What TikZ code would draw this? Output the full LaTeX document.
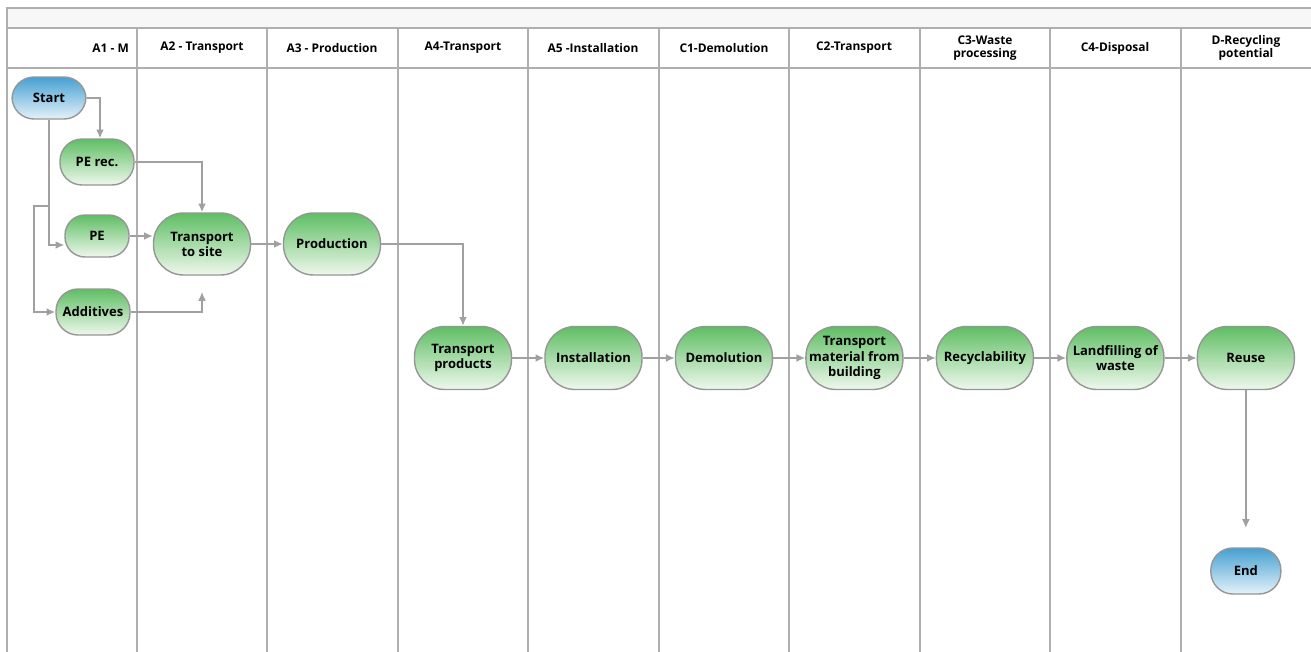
\documentclass[tikz,border=0pt]{standalone}
\usepackage{fontspec}
\setmainfont{Open Sans}
\usepackage{tikz}
\usetikzlibrary{arrows.meta,positioning}
\definecolor{laneline}{RGB}{175,175,175}
\definecolor{linkgrey}{RGB}{160,160,160}
\definecolor{boxline}{RGB}{150,150,150}
\definecolor{greentop}{RGB}{95,190,100}
\definecolor{greenbot}{RGB}{238,248,236}
\definecolor{bluetop}{RGB}{70,160,210}
\definecolor{bluebot}{RGB}{228,242,250}
\tikzset{
  lane/.style={draw=laneline,line width=0.9pt},
  lanehead/.style={font=\fontsize{6.8}{7.8}\selectfont\bfseries,align=center},
  proc/.style={draw=boxline,line width=0.8pt,top color=greentop,bottom color=greenbot,
    font=\fontsize{7.4}{8.6}\selectfont\bfseries,align=center,inner sep=1pt},
  term/.style={proc,top color=bluetop,bottom color=bluebot},
  small/.style={minimum width=1.48cm,minimum height=0.92cm,rounded corners=0.44cm},
  big/.style={minimum width=1.94cm,minimum height=1.26cm,rounded corners=0.6cm},
  chainright/.style={right=2.61cm of #1.center,anchor=center},
  link/.style={draw=linkgrey,line width=0.9pt,-{Latex[length=5pt,width=4.5pt]}}
}
\begin{document}
\begin{tikzpicture}[x=0.02cm,y=-0.02cm]
    \useasboundingbox (0,0) rectangle (1311,652);
    \fill[white] (0,0) rectangle (1311,652);
    \fill[black!3] (7,8) rectangle (1311,28);
    \draw[lane] (7,652) |- (1311,8);
    \draw[lane] (7,28) -- (1311,28);
    \draw[lane] (7,68) -- (1311,68);
    \foreach \x in {137,267,398,528,659,789,920,1050,1181}
        \draw[lane] (\x,28) -- (\x,652);
    \node[lanehead,anchor=east] (h1) at (135,48) {A1 - M};
    \foreach \x/\t [count=\i from 2] in {202/A2 - Transport,332/A3 - Production,
        463/A4-Transport,593/A5 -Installation,724/C1-Demolution,854/C2-Transport,
        985/C3-Waste\\processing,1115/C4-Disposal,1246/D-Recycling\\potential}
        \node[lanehead] (h\i) at (\x,48) {\t};

    \node[term,small,minimum height=0.84cm] (start) at (49,98) {Start};
    \node[proc,small] (perec) at (97,162) {PE rec.};
    \node[proc,small,minimum width=1.28cm,minimum height=0.84cm,rounded corners=0.4cm] (pe) at (97,236) {PE};
    \node[proc,small] (add) at (93,312) {Additives};
    \node[proc,big,minimum height=1.24cm] (site) at (202,244) {Transport\\to site};
    \node[proc,big,minimum height=1.24cm] (prod) at (332,244) {Production};
    \node[proc,big] (tprod) at (463,358) {Transport\\products};
    \node[proc,big,chainright=tprod] (inst) {Installation};
    \node[proc,big,chainright=inst] (demol) {Demolution};
    \node[proc,big,chainright=demol] (tmat) {Transport\\material from\\building};
    \node[proc,big,chainright=tmat] (recyc) {Recyclability};
    \node[proc,big,chainright=recyc] (landf) {Landfilling of\\waste};
    \node[proc,big,chainright=landf] (reuse) {Reuse};
    \node[term,small,minimum width=1.4cm] (end) at (reuse |- 0,571) {End};

    \coordinate (fork) at (49,206);
    \coordinate (sitein) at (202,292);
    \coordinate (endin) at (reuse |- 0,528);

    \draw[link] (start.east) -| ([xshift=0.06cm]perec.north);
    \draw[link] (start.south) |- ([yshift=-0.18cm]pe.west);
    \draw[link] (fork) -- ++(-15,0) |- (add.west);
    \draw[link] (perec.east) -| (site.north);
    \draw[link] (pe.east) -- (pe.east -| site.west);
    \draw[link] (add.east) -| (sitein);
    \draw[link] (site.east) -- (prod.west);
    \draw[link] (prod.east) -| (tprod.north);
    \draw[link] (tprod) -- (inst);
    \draw[link] (inst) -- (demol);
    \draw[link] (demol) -- (tmat);
    \draw[link] (tmat) -- (recyc);
    \draw[link] (recyc) -- (landf);
    \draw[link] (landf) -- (reuse);
    \draw[link] (reuse.south) -- (endin);
\end{tikzpicture}
\end{document}
